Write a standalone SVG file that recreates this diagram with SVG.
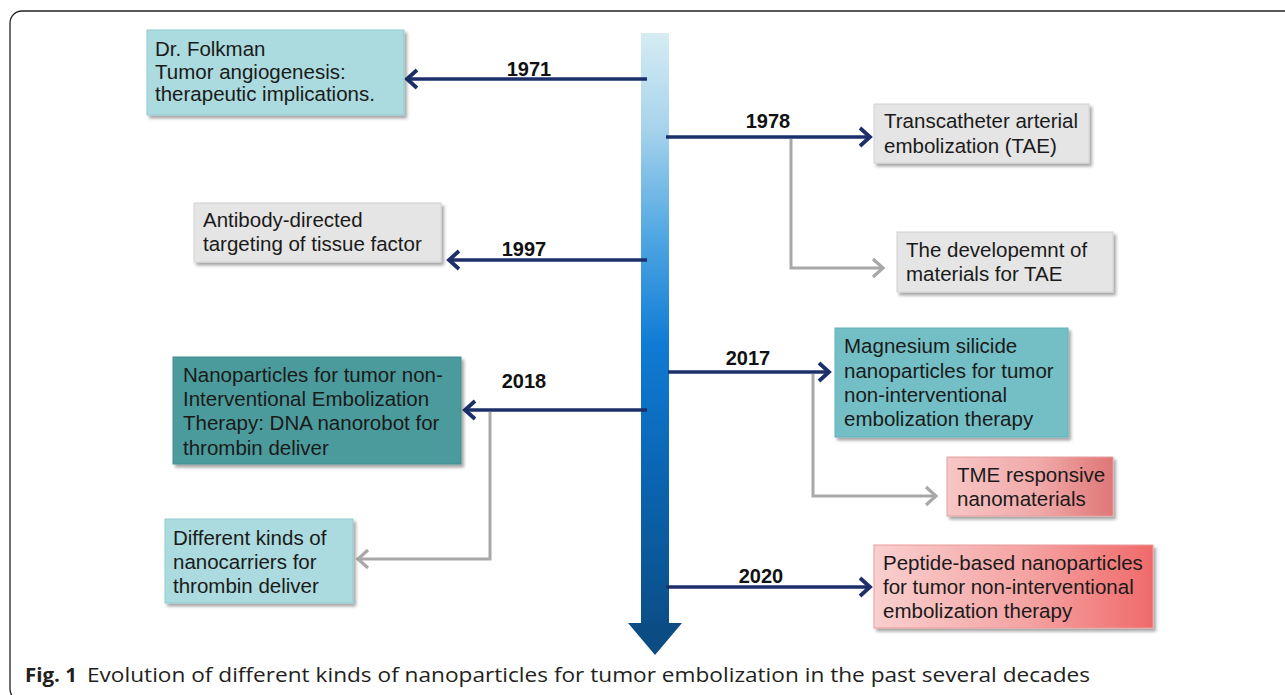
<svg xmlns="http://www.w3.org/2000/svg" width="1285" height="695" viewBox="0 0 1285 695">
<style>
.txt{font-family:"Liberation Sans",Arial,sans-serif;font-size:20.5px;fill:#1a1a1a}
.yr{font-family:"Liberation Sans",Arial,sans-serif;font-size:20px;font-weight:bold;fill:#111;text-anchor:middle}
.main{fill:none;stroke:#1c2f6b;stroke-width:3.5}
.sub{fill:none;stroke:#a8a8a8;stroke-width:3}
.box{filter:url(#sh);stroke-width:1}
.cap{font-family:"Open Sans","Noto Sans",sans-serif;font-size:20px;fill:#231f20}
</style>
<defs>
<filter id="sh" x="-10%" y="-10%" width="125%" height="135%">
<feDropShadow dx="2.5" dy="3" stdDeviation="1.8" flood-color="#000" flood-opacity="0.35"/>
</filter>
<linearGradient id="bar" gradientUnits="userSpaceOnUse" x1="0" y1="33" x2="0" y2="655">
<stop offset="0" stop-color="#d5ecf3"/>
<stop offset="0.15" stop-color="#a8d4ec"/>
<stop offset="0.33" stop-color="#4ea6e2"/>
<stop offset="0.5" stop-color="#107bd5"/>
<stop offset="0.72" stop-color="#0a64b0"/>
<stop offset="1" stop-color="#0b4a80"/>
</linearGradient>
<linearGradient id="tme" x1="0" y1="0" x2="1" y2="0">
<stop offset="0" stop-color="#f7c6c6"/>
<stop offset="0.55" stop-color="#f1a9a9"/>
<stop offset="1" stop-color="#df7676"/>
</linearGradient>
<linearGradient id="pep" x1="0" y1="0" x2="1" y2="0">
<stop offset="0" stop-color="#f9cfcf"/>
<stop offset="0.55" stop-color="#f5a3a3"/>
<stop offset="1" stop-color="#f06a6a"/>
</linearGradient>
<marker id="am" markerUnits="userSpaceOnUse" viewBox="-14 -12 18 24" markerWidth="18" markerHeight="24" refX="0" refY="0" orient="auto">
<path d="M-10,-9 L0,0 L-10,9" fill="none" stroke="#1c2f6b" stroke-width="3.8"/>
</marker>
<marker id="ag" markerUnits="userSpaceOnUse" viewBox="-14 -12 18 24" markerWidth="18" markerHeight="24" refX="0" refY="0" orient="auto">
<path d="M-10,-9 L0,0 L-10,9" fill="none" stroke="#a8a8a8" stroke-width="3.2"/>
</marker>
</defs>
<rect width="1285" height="695" fill="#ffffff"/>
<rect x="10" y="11" width="1300" height="690" rx="12" fill="none" stroke="#222" stroke-width="1.3"/>

<g id="timeline">
<rect x="641" y="33" width="28" height="592" fill="url(#bar)"/>
<polygon points="628,623 682,623 655,655" fill="#0b4c84"/>
</g>

<g id="connectors">
<path class="main" d="M647,79 H407" marker-end="url(#am)"/>
<path class="main" d="M666,137 H870" marker-end="url(#am)"/>
<path class="main" d="M647,260 H449" marker-end="url(#am)"/>
<path class="main" d="M647,410 H465" marker-end="url(#am)"/>
<path class="main" d="M668,372 H829" marker-end="url(#am)"/>
<path class="main" d="M666,587 H870" marker-end="url(#am)"/>
<path class="sub" d="M791,139 V268 H883" marker-end="url(#ag)"/>
<path class="sub" d="M813,374 V496 H936" marker-end="url(#ag)"/>
<path class="sub" d="M490,412 V559 H358" marker-end="url(#ag)"/>
<text class="yr" x="529" y="76">1971</text>
<text class="yr" x="768" y="128">1978</text>
<text class="yr" x="524" y="256">1997</text>
<text class="yr" x="524" y="388">2018</text>
<text class="yr" x="748" y="365">2017</text>
<text class="yr" x="761" y="583">2020</text>
</g>

<g id="n1971">
<rect class="box" x="147" y="30" width="257" height="85" fill="#abdbde" stroke="#8fcbd0"/>
<text class="txt" x="155" y="56">Dr. Folkman</text>
<text class="txt" x="155" y="79">Tumor angiogenesis:</text>
<text class="txt" x="155" y="101">therapeutic implications.</text>
</g>

<g id="n1978">
<rect class="box" x="874" y="104" width="215" height="59" fill="#e5e5e5" stroke="#d2d2d2"/>
<text class="txt" x="884" y="128">Transcatheter arterial</text>
<text class="txt" x="884" y="153">embolization (TAE)</text>
</g>

<g id="nTAEmat">
<rect class="box" x="897" y="232" width="216" height="60" fill="#e5e5e5" stroke="#d2d2d2"/>
<text class="txt" x="906" y="257">The developemnt of</text>
<text class="txt" x="906" y="281">materials for TAE</text>
</g>

<g id="n1997">
<rect class="box" x="194" y="203" width="247" height="59" fill="#e5e5e5" stroke="#d2d2d2"/>
<text class="txt" x="203" y="227">Antibody-directed</text>
<text class="txt" x="203" y="251">targeting of tissue factor</text>
</g>

<g id="n2018">
<rect class="box" x="173" y="357" width="288" height="107" fill="#4b9b9d" stroke="#3f8d8f"/>
<text class="txt" x="183" y="382">Nanoparticles for tumor non-</text>
<text class="txt" x="183" y="406">Interventional Embolization</text>
<text class="txt" x="183" y="430">Therapy: DNA nanorobot for</text>
<text class="txt" x="183" y="455">thrombin deliver</text>
</g>

<g id="nCarriers">
<rect class="box" x="165" y="519" width="188" height="84" fill="#abdbde" stroke="#8fcbd0"/>
<text class="txt" x="173" y="545">Different kinds of</text>
<text class="txt" x="173" y="569">nanocarriers for</text>
<text class="txt" x="173" y="593">thrombin deliver</text>
</g>

<g id="n2017">
<rect class="box" x="835" y="328" width="233" height="109" fill="#73bfc5" stroke="#62b3b9"/>
<text class="txt" x="844" y="353">Magnesium silicide</text>
<text class="txt" x="844" y="378">nanoparticles for tumor</text>
<text class="txt" x="844" y="402">non-interventional</text>
<text class="txt" x="844" y="426">embolization therapy</text>
</g>

<g id="nTME">
<rect class="box" x="947" y="457" width="166" height="59" fill="url(#tme)" stroke="#e6a0a0"/>
<text class="txt" x="957" y="482">TME responsive</text>
<text class="txt" x="957" y="506">nanomaterials</text>
</g>

<g id="n2020">
<rect class="box" x="874" y="545" width="279" height="83" fill="url(#pep)" stroke="#ec9c9c"/>
<text class="txt" x="883" y="570">Peptide-based nanoparticles</text>
<text class="txt" x="883" y="594">for tumor non-interventional</text>
<text class="txt" x="883" y="618">embolization therapy</text>
</g>

<g id="caption">
<text class="cap" x="25" y="682" font-weight="bold" textLength="52" lengthAdjust="spacingAndGlyphs">Fig. 1</text>
<text class="cap" x="87" y="682" textLength="1003" lengthAdjust="spacingAndGlyphs">Evolution of different kinds of nanoparticles for tumor embolization in the past several decades</text>
</g>
</svg>
